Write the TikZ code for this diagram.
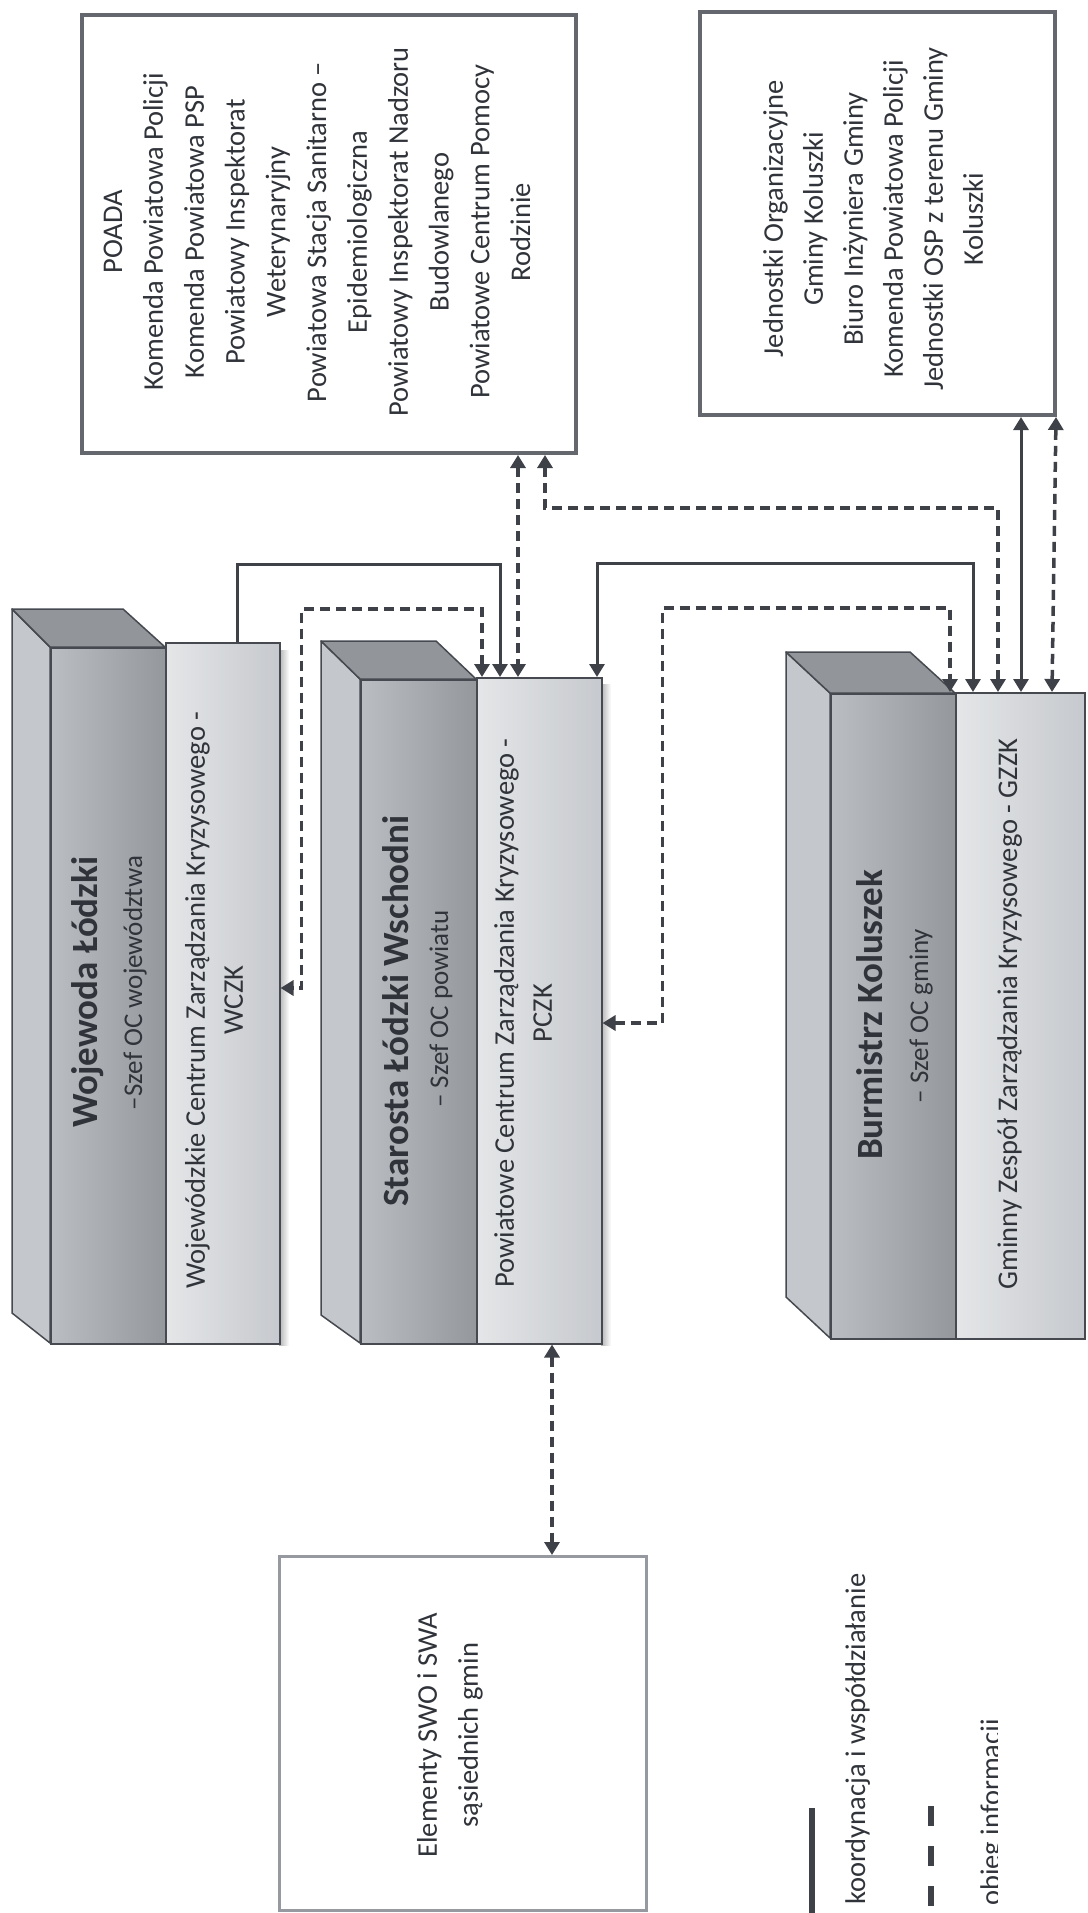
\documentclass[tikz,border=0pt]{standalone}
\usepackage{fontspec}
\setmainfont{Carlito}
\usetikzlibrary{arrows.meta}
\definecolor{txt}{RGB}{48,52,58}
\definecolor{lnc}{RGB}{62,66,72}
\definecolor{boxb}{RGB}{100,104,110}
\definecolor{swob}{RGB}{150,154,160}
\definecolor{sidef}{RGB}{196,199,203}
\definecolor{topf}{RGB}{146,149,154}
\definecolor{frontL}{RGB}{186,189,193}
\definecolor{frontR}{RGB}{148,151,156}
\definecolor{panelL}{RGB}{228,230,232}
\definecolor{panelR}{RGB}{198,201,205}
\definecolor{edge}{RGB}{70,74,80}
\begin{document}
\begin{tikzpicture}[x=1pt,y=-1pt,
  >={Triangle[width=15pt,length=13pt]},
  obox/.style={draw=boxb,line width=4pt,inner sep=0pt,anchor=north west},
  swobox/.style={draw=swob,line width=2.5pt,inner sep=0pt,anchor=north west},
  front/.style={draw=edge,line width=1.5pt,inner sep=0pt,anchor=north west,left color=frontL,right color=frontR},
  panel/.style={draw=edge,line width=1.5pt,inner sep=0pt,anchor=north west,left color=panelL,right color=panelR},
  face/.style={draw=edge,line width=1.5pt,line join=round},
  rtxt/.style={rotate=90,inner sep=0pt,text=txt,align=center,font=\fontsize{28.5}{40.8}\selectfont},
  ttl/.style={rotate=90,inner sep=0pt,anchor=base,text=txt,font=\bfseries\fontsize{37}{44}\selectfont},
  subt/.style={rotate=90,inner sep=0pt,anchor=base,text=txt,font=\fontsize{27}{32}\selectfont},
  solidc/.style={draw=lnc,line width=3pt},
  dashc/.style={draw=lnc,line width=3.5pt,dash pattern=on 10pt off 6pt}]
\useasboundingbox (0,0) rectangle (1087,1913);
\fill[white] (0,0) rectangle (1087,1913);

% ---- top boxes
\node[obox,minimum width=494pt,minimum height=438pt] (poada) at (80,13) {};
\node[rtxt] (poadatxt) at (317,232) {POADA\\Komenda Powiatowa Policji\\Komenda Powiatowa PSP\\Powiatowy Inspektorat\\Weterynaryjny\\Powiatowa Stacja Sanitarno –\\Epidemiologiczna\\Powiatowy Inspektorat Nadzoru\\Budowlanego\\Powiatowe Centrum Pomocy\\Rodzinie};
\node[obox,minimum width=355pt,minimum height=403pt] (jedn) at (698,10) {};
\node[rtxt,font=\fontsize{28.5}{40}\selectfont] (jedntxt) at (873,219) {Jednostki Organizacyjne\\Gminy Koluszki\\Biuro Inżyniera Gminy\\Komenda Powiatowa Policji\\Jednostki OSP z terenu Gminy\\Koluszki};

% ---- Wojewoda block
\path[face,fill=sidef] (50,647) -- (12,609) -- (12,1313) -- (50,1343) -- cycle;
\path[face,fill=topf] (50,647) -- (12,609) -- (123,609) -- (165,647) -- cycle;
\node[front,minimum width=115pt,minimum height=696pt] (wfront) at (50,647) {};
\shade[left color=gray!60,right color=white] (279,650) rectangle (289,1345);
\node[panel,minimum width=114pt,minimum height=701pt] (wczk) at (165,642) {};
\node[ttl] (wttl) at (97,992) {Wojewoda Łódzki};
\node[subt] (wsub) at (142,983) {–Szef OC województwa};
\node[rtxt,font=\fontsize{28.5}{38}\selectfont] (wczktxt) at (214,1000) {Wojewódzkie Centrum Zarządzania Kryzysowego -\\WCZK};

% ---- Starosta block
\path[face,fill=sidef] (360,679) -- (321,641) -- (321,1315) -- (360,1343) -- cycle;
\path[face,fill=topf] (360,679) -- (321,641) -- (436,641) -- (476,679) -- cycle;
\node[front,minimum width=116pt,minimum height=664pt] (sfront) at (360,679) {};
\shade[left color=gray!60,right color=white] (601,684) rectangle (611,1345);
\node[panel,minimum width=125pt,minimum height=666pt] (pczk) at (476,677) {};
\node[ttl] (sttl) at (408,1011) {Starosta Łódzki Wschodni};
\node[subt] (ssub) at (448,1009) {– Szef OC powiatu};
\node[rtxt,font=\fontsize{28.5}{38}\selectfont] (pczktxt) at (523,1013) {Powiatowe Centrum Zarządzania Kryzysowego -\\PCZK};

% ---- Burmistrz block
\path[face,fill=sidef] (830,693) -- (786,652) -- (786,1297) -- (830,1338) -- cycle;
\path[face,fill=topf] (830,693) -- (786,652) -- (910,652) -- (955,693) -- cycle;
\node[front,minimum width=125pt,minimum height=645pt] (bfront) at (830,693) {};
\node[panel,minimum width=129pt,minimum height=646pt] (gzzk) at (955,692) {};
\node[ttl] (bttl) at (882,1015) {Burmistrz Koluszek};
\node[subt] (bsub) at (928,1016) {– Szef OC gminy};
\node[rtxt,anchor=base] (gzzktxt) at (1017,1014) {Gminny Zespół Zarządzania Kryzysowego - GZZK};

% ---- SWO box
\node[swobox,minimum width=367pt,minimum height=354pt] (swo) at (278,1555) {};
\node[rtxt,font=\fontsize{28.5}{41}\selectfont] (swotxt) at (450,1735) {Elementy SWO i SWA\\sąsiednich gmin};

% ---- connectors
\draw[solidc,->] ([xshift=72pt]wczk.north west) -- ++(0,-78) -| ([xshift=24pt]pczk.north west);
\draw[dashc,<->] ([xshift=6pt]pczk.north west) -- ++(0,-68) -| ([xshift=21pt,yshift=-346pt]wczk.north east) -- ([yshift=-346pt]wczk.north east);
\draw[dashc,<->] ([xshift=438pt]poada.south west) -- ([xshift=42pt]pczk.north west);
\draw[dashc,<->] ([xshift=465pt]poada.south west) -- ++(0,53) -| ([xshift=43pt]gzzk.north west);
\draw[solidc,<->] ([xshift=121pt]pczk.north west) -- ++(0,-114) -| ([xshift=18pt]gzzk.north west);
\draw[dashc,<->] ([yshift=-346pt]pczk.north east) -- ++(60,0) |- ([xshift=-5pt,yshift=84pt]gzzk.north west) -- ([xshift=-5pt]gzzk.north west);
\draw[solidc,<->] ([xshift=66pt]gzzk.north west) -- ([xshift=323pt]jedn.south west);
\draw[dashc,<->] ([xshift=97pt]gzzk.north west) -- ([xshift=-1pt]jedn.south east);
\draw[dashc,<->] ([xshift=76pt]pczk.south west) -- ([xshift=274pt]swo.north west);

% ---- legend
\draw[lnc,line width=6pt] (812,1808) -- (812,1913);
\node[rtxt,anchor=base west] (leg1) at (865,1905) {koordynacja i współdziałanie};
\draw[lnc,line width=6pt,dash pattern=on 20pt off 20pt] (931,1806) -- (931,1913);
\begin{scope}
\clip (900,1600) rectangle (997,1913);
\node[rtxt,anchor=base west] (leg2) at (1000,1906) {obieg informacji};
\end{scope}
\end{tikzpicture}
\end{document}
